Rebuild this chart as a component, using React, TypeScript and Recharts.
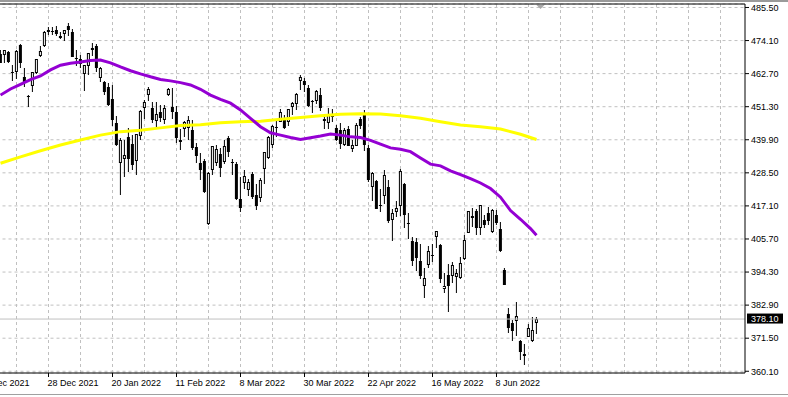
import React from "react";
import {
  ComposedChart,
  Bar,
  Line,
  XAxis,
  YAxis,
  CartesianGrid,
  ReferenceLine,
  ReferenceDot,
} from "recharts";

// ---- Daily candles (bar index 0 = 9 Dec 2021 ... 134 = 23 Jun 2022) ----
const opens = [
  469.6, 469.2, 470.2, 463.1, 463.4, 472.6, 461.6, 454.5, 458.6, 462.8, 468.8, 472.1, 477.7, 477.0, 477.9, 475.6,
  476.3, 479.2, 477.2, 467.9, 467.9, 462.7, 465.2, 471.6, 472.2, 461.2, 459.7, 458.1, 453.8, 445.6, 432.0, 433.1,
  440.7, 438.3, 432.7, 441.2, 450.7, 455.5, 451.0, 446.4, 449.5, 446.7, 455.2, 451.3, 449.4, 439.9, 443.7, 443.9,
  443.2, 437.3, 431.9, 432.7, 411.0, 429.6, 432.0, 435.0, 432.4, 440.5, 431.8, 431.6, 419.6, 425.1, 422.5, 428.1,
  420.9, 419.8, 429.9, 433.6, 438.0, 444.3, 445.9, 446.9, 445.9, 451.2, 452.1, 460.0, 460.3, 457.9, 453.3, 453.1,
  455.2, 446.9, 445.6, 448.0, 444.1, 443.1, 438.0, 443.6, 436.8, 437.9, 446.9, 448.5, 436.9, 423.7, 425.8, 417.2,
  420.6, 423.6, 412.1, 415.0, 417.1, 424.6, 411.1, 405.1, 404.5, 398.1, 389.4, 396.7, 400.0, 406.5, 403.5, 388.6,
  393.3, 392.8, 392.6, 392.3, 398.7, 407.9, 413.6, 415.2, 409.4, 412.4, 414.8, 408.1, 413.9, 409.3, 394.9, 379.9,
  376.9, 377.4, 370.5, 365.5, 371.9, 370.6, 376.6,
];
const highs = [
  470.9, 470.9, 470.6, 465.7, 470.9, 472.9, 464.7, 455.4, 463.2, 467.8, 472.2, 477.3, 478.8, 478.6, 479.0, 476.9,
  477.9, 480.0, 478.0, 470.8, 469.2, 465.7, 469.9, 473.2, 472.9, 465.1, 460.0, 459.6, 458.7, 448.1, 440.4, 439.7,
  444.0, 441.6, 442.0, 450.3, 453.6, 458.1, 453.0, 452.8, 452.0, 451.9, 457.9, 457.7, 451.6, 443.5, 446.3, 448.1,
  446.6, 438.7, 435.5, 433.3, 428.8, 437.9, 438.2, 437.2, 439.7, 441.1, 433.4, 432.3, 427.2, 429.5, 426.4, 428.8,
  424.6, 426.8, 435.7, 441.1, 444.9, 446.5, 450.6, 448.5, 450.5, 453.0, 455.9, 462.1, 461.2, 458.8, 453.5, 456.9,
  457.8, 447.6, 450.7, 450.6, 445.0, 445.8, 444.1, 444.7, 439.8, 445.8, 447.6, 450.0, 438.1, 428.7, 426.0, 422.9,
  429.6, 425.9, 415.9, 418.9, 429.7, 425.0, 414.8, 406.4, 406.1, 404.0, 395.8, 403.2, 404.0, 408.6, 403.8, 394.1,
  397.0, 397.7, 395.2, 399.5, 407.0, 415.4, 416.5, 416.2, 417.4, 414.0, 416.6, 416.2, 415.8, 411.7, 395.8, 381.8,
  377.9, 383.9, 370.9, 369.4, 376.5, 378.7, 378.8,
];
const lows = [
  466.2, 466.5, 466.3, 460.3, 460.7, 464.8, 458.1, 451.1, 456.3, 462.6, 468.6, 472.0, 476.1, 475.9, 475.7, 474.7,
  473.9, 475.6, 468.3, 465.4, 464.7, 456.6, 462.1, 468.9, 463.4, 459.9, 455.3, 451.5, 444.5, 437.9, 420.8, 427.2,
  428.9, 429.5, 427.8, 439.8, 446.9, 453.1, 445.7, 443.8, 445.9, 445.2, 455.0, 447.2, 438.9, 436.4, 440.7, 439.7,
  436.4, 431.8, 425.9, 421.4, 410.6, 427.9, 430.7, 427.1, 431.6, 433.8, 427.9, 419.3, 415.1, 422.8, 420.4, 419.5,
  415.8, 418.4, 424.8, 433.2, 437.2, 440.7, 445.9, 443.7, 444.8, 448.4, 450.1, 457.2, 456.5, 451.2, 449.1, 452.3,
  449.8, 443.5, 443.5, 445.9, 439.4, 436.7, 437.8, 437.7, 435.6, 437.7, 443.5, 436.1, 425.4, 418.8, 416.0, 415.0,
  417.6, 411.2, 405.0, 413.4, 413.7, 409.4, 405.7, 396.5, 394.8, 392.0, 385.2, 395.6, 397.6, 402.6, 390.6, 387.1,
  380.5, 390.4, 387.0, 391.9, 398.5, 407.7, 410.0, 406.9, 407.0, 409.5, 410.6, 407.6, 410.4, 401.3, 389.7, 373.3,
  370.6, 372.1, 364.1, 362.2, 371.8, 370.2, 372.9,
];
const closes = [
  466.35, 470.7, 466.6, 463.4, 470.6, 466.5, 459.9, 455.0, 463.1, 467.7, 470.6, 477.2, 476.9, 477.5, 476.2, 475.0,
  477.7, 477.6, 468.4, 468.0, 466.1, 465.5, 469.8, 471.0, 464.5, 464.7, 456.5, 451.8, 446.8, 438.0, 439.8, 434.5,
  433.4, 431.2, 441.9, 449.9, 453.0, 457.4, 446.6, 448.7, 447.3, 450.9, 457.5, 449.3, 440.5, 439.0, 446.1, 446.6,
  437.1, 434.2, 429.6, 422.0, 428.3, 437.7, 436.6, 430.0, 437.9, 435.7, 432.2, 419.4, 416.3, 427.4, 425.5, 420.1,
  417.0, 426.2, 435.6, 441.0, 444.5, 444.4, 449.6, 443.8, 450.4, 452.7, 455.8, 461.6, 458.7, 451.6, 452.9, 456.8,
  451.0, 446.5, 448.8, 447.6, 439.9, 438.3, 443.3, 437.8, 438.0, 445.0, 444.7, 438.1, 426.0, 428.5, 416.1, 417.3,
  427.8, 412.0, 414.5, 416.4, 429.1, 413.8, 411.3, 398.2, 399.1, 392.8, 392.3, 401.7, 400.1, 408.3, 391.9, 389.5,
  389.6, 396.9, 393.9, 397.4, 405.3, 415.3, 412.9, 409.6, 417.3, 410.5, 411.8, 415.7, 411.2, 401.4, 389.8, 375.0,
  373.9, 379.2, 366.7, 365.9, 375.1, 374.4, 378.1,
];

// ---- Moving averages (positions in bar units) ----
const ma50Pos = [
  0, 2.5, 5, 7.5, 10, 12.5, 15, 17.5, 20, 22.5, 25, 27.5, 30, 32.5, 35, 37.5, 40, 42.5, 45, 47.5, 50, 52.5, 55, 57.5,
  60, 62.5, 65, 67.5, 70, 72.5, 75, 77.5, 80, 82.5, 85, 87.5, 90, 92.5, 95, 97.5, 100, 102.5, 105, 107.5, 110, 112.5,
  115, 117.5, 120, 122.5, 125, 127.5, 130, 132.5, 134,
];
const ma50 = [
  455.3, 457.4, 459.0, 460.6, 461.9, 464.0, 465.6, 466.3, 466.7, 467.2, 467.4, 466.4, 465.0, 463.7, 462.6, 461.6,
  460.7, 460.2, 459.6, 458.8, 457.3, 455.3, 453.8, 452.5, 450.2, 447.3, 444.4, 442.3, 441.5, 440.7, 440.0, 440.6,
  441.2, 441.9, 441.5, 440.9, 440.7, 439.7, 438.4, 437.1, 436.6, 435.8, 433.6, 431.5, 430.9, 429.2, 427.9, 426.5,
  425.0, 423.1, 420.1, 415.5, 412.5, 409.3, 407.0,
];
const ma200Pos = [
  0, 5, 10, 15, 20, 25, 30, 35, 40, 45, 50, 55, 60, 65, 70, 75, 80, 85, 90, 95, 100, 105, 110, 115, 120, 125, 130, 134,
];
const ma200 = [
  431.8, 434.0, 436.1, 438.1, 439.8, 441.5, 442.7, 443.2, 444.0, 444.8, 445.1, 445.8, 446.1, 446.3, 447.0, 447.6,
  448.2, 448.7, 448.9, 448.8, 448.2, 447.3, 446.1, 445.0, 444.4, 443.6, 441.8, 440.0,
];

// ---- Axes ----
const yTicks = [360.1, 371.5, 382.9, 394.3, 405.7, 417.1, 428.5, 439.9, 451.3, 462.7, 474.1, 485.5];
const yDomain = [359.5, 486.7];
const xTickIdx = [-4, 12, 28, 44, 60, 76, 92, 108, 124];
const xTickText = [
  "6 Dec 2021",
  "28 Dec 2021",
  "20 Jan 2022",
  "11 Feb 2022",
  "8 Mar 2022",
  "30 Mar 2022",
  "22 Apr 2022",
  "16 May 2022",
  "8 Jun 2022",
];
const gridIdx = Array.from({ length: 24 }, (_, k) => -4 + 8 * k);
const xDomain = [-4, 186.125];
const lastPrice = 378.1;
const shiftMarkerIdx = 135;

const candles = opens.map((o, i) => ({
  i,
  o,
  h: highs[i],
  l: lows[i],
  c: closes[i],
  range: [lows[i], highs[i]],
}));
const ma50Data = ma50Pos.map((i, k) => ({ i, v: ma50[k] }));
const ma200Data = ma200Pos.map((i, k) => ({ i, v: ma200[k] }));

const FONT = "'Liberation Sans', Arial, sans-serif";

const Candle = (props: any) => {
  const { x, y, width, height, payload } = props;
  if (x == null || y == null || !payload) return null;
  const top = Math.min(y, y + height);
  const bot = Math.max(y, y + height);
  const { o, h, l, c } = payload;
  const k = (bot - top) / (h - l || 1);
  const py = (p: number) => top + (h - p) * k;
  const cx = x + width / 2;
  const bTop = Math.round(Math.min(py(o), py(c)));
  const bBot = Math.round(Math.max(py(o), py(c)));
  const wTop = Math.round(top);
  const wBot = Math.round(bot);
  const up = c >= o;
  let body;
  if (bBot - bTop <= 1) {
    body = <rect x={cx - 1.5} y={bTop} width={3} height={1} fill="#000" />;
  } else if (up) {
    body = (
      <rect
        x={cx - 1}
        y={bTop + 0.5}
        width={2}
        height={bBot - bTop - 1}
        fill="#fff"
        stroke="#000"
        strokeWidth={1}
      />
    );
  } else {
    body = <rect x={cx - 1.5} y={bTop} width={3} height={bBot - bTop} fill="#000" />;
  }
  return (
    <g>
      <rect x={cx - 0.5} y={wTop} width={1} height={Math.max(wBot - wTop, 1)} fill="#000" />
      {body}
    </g>
  );
};

const XTick = (props: any) => {
  const { x, y, payload } = props;
  const k = xTickIdx.indexOf(payload.value);
  if (k < 0) return null;
  return (
    <text x={x - 1} y={y + 7} fontSize={9} fontFamily={FONT} fill="#000" textAnchor="start">
      {xTickText[k]}
    </text>
  );
};

const YTick = (props: any) => {
  const { x, y, payload } = props;
  return (
    <text x={x} y={y + 3.3} fontSize={9} fontFamily={FONT} fill="#000" textAnchor="start">
      {Number(payload.value).toFixed(2)}
    </text>
  );
};

const PriceLabel = (props: any) => {
  const vb = props.viewBox || {};
  const rx = (vb.x || 0) + (vb.width || 0);
  const ry = vb.y || 0;
  return (
    <g>
      <rect x={rx + 2} y={ry - 5.5} width={36} height={10} fill="#000" />
      <text x={rx + 6} y={ry + 3} fontSize={9} fontFamily={FONT} fill="#fff" textAnchor="start">
        {lastPrice.toFixed(2)}
      </text>
    </g>
  );
};

const ShiftMarker = (props: any) => {
  const { cx, cy } = props;
  if (cx == null || cy == null) return null;
  return <polygon points={`${cx - 4},${cy + 1} ${cx + 4},${cy + 1} ${cx},${cy + 5}`} fill="#a8a8a8" />;
};

export default function App() {
  return (
    <div
      style={{
        position: "fixed",
        left: 0,
        top: 0,
        width: 788,
        height: 397,
        background: "#fff",
        overflow: "hidden",
      }}
    >
      <div style={{ position: "absolute", left: 0, top: 0, width: 788, height: 2, background: "#9a9a9a" }} />
      <ComposedChart
        width={788}
        height={397}
        data={candles}
        margin={{ top: 4, right: 0, bottom: 0, left: -15.5 }}
      >
        <CartesianGrid
          stroke="#c0c0c0"
          strokeDasharray="3 3"
          verticalCoordinatesGenerator={({ xAxis }: any) => {
            const s = xAxis && xAxis.scale;
            if (!s) return [];
            const f = typeof s === "function" ? s : s.map;
            return gridIdx.map((v) => f(v));
          }}
        />
        <XAxis
          dataKey="i"
          type="number"
          domain={xDomain}
          ticks={xTickIdx}
          tick={<XTick />}
          height={24}
          tickSize={4}
          tickMargin={2}
          interval={0}
          axisLine={{ stroke: "#000" }}
          tickLine={{ stroke: "#000" }}
          allowDataOverflow
        />
        <YAxis
          orientation="right"
          type="number"
          domain={yDomain}
          ticks={yTicks}
          tick={<YTick />}
          width={43}
          tickSize={4}
          tickMargin={2}
          interval={0}
          axisLine={{ stroke: "#000" }}
          tickLine={{ stroke: "#000" }}
          allowDataOverflow
        />
        <ReferenceLine y={yDomain[1]} stroke="#000" />
        <ReferenceLine y={lastPrice} stroke="#c0c0c0" label={<PriceLabel />} />
        <Bar dataKey="range" barSize={3} shape={<Candle />} isAnimationActive={false} />
        <Line
          data={ma200Data}
          dataKey="v"
          type="linear"
          stroke="#ffff00"
          strokeWidth={3}
          dot={false}
          activeDot={false}
          isAnimationActive={false}
        />
        <Line
          data={ma50Data}
          dataKey="v"
          type="linear"
          stroke="#9400d3"
          strokeWidth={3}
          dot={false}
          activeDot={false}
          isAnimationActive={false}
        />
        <ReferenceDot x={shiftMarkerIdx} y={yDomain[1]} r={0} shape={<ShiftMarker />} />
      </ComposedChart>
      <div style={{ position: "absolute", left: 0, top: 394, width: 788, height: 1, background: "#a0a0a0" }} />
    </div>
  );
}
